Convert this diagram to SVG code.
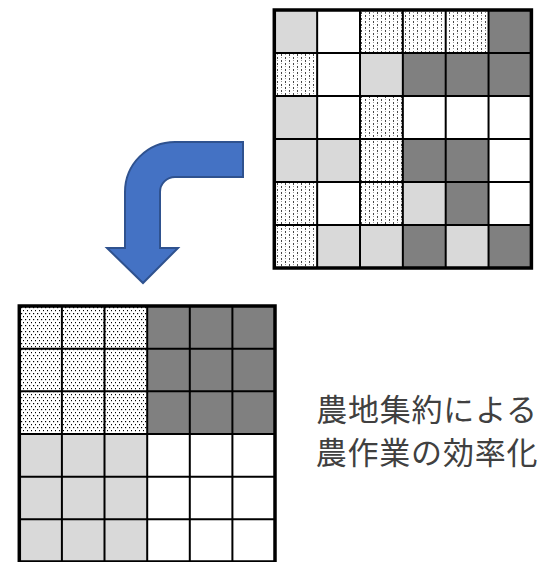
<svg xmlns="http://www.w3.org/2000/svg" width="547" height="562" viewBox="0 0 547 562">
<defs>
<pattern id="dashes" patternUnits="userSpaceOnUse" width="8" height="6">
<rect width="8" height="6" fill="#fff"/>
<rect x="1" y="0" width="1" height="2" fill="#444"/>
<rect x="1" y="3" width="1" height="1" fill="#999"/>
<rect x="5" y="3" width="1" height="2" fill="#444"/>
<rect x="5" y="0" width="1" height="1" fill="#999"/>
</pattern>
<pattern id="dots" patternUnits="userSpaceOnUse" width="4" height="6">
<rect width="4" height="6" fill="#fff"/>
<rect x="1" y="1" width="1.2" height="1.2" fill="#000"/>
<rect x="3" y="4" width="1.2" height="1.2" fill="#000"/>
</pattern>
<style>
.l{fill:#D9D9D9}.d{fill:#808080}.w{fill:#fff}.p{fill:url(#dashes)}.q{fill:url(#dots)}
.lines line{stroke:#000;stroke-width:2}
.border{fill:none;stroke:#000;stroke-width:3.5}
.txt{font-family:"Noto Sans CJK JP","Noto Sans CJK SC",sans-serif;font-size:31px;fill:#404040;letter-spacing:0.8px;text-anchor:middle}
</style>
</defs>
<g id="top-grid">
<rect class="l" x="274.3" y="10" width="42.85" height="43"/>
<rect class="w" x="317.15" y="10" width="42.85" height="43"/>
<rect class="p" x="360" y="10" width="42.85" height="43"/>
<rect class="p" x="402.85" y="10" width="42.85" height="43"/>
<rect class="p" x="445.7" y="10" width="42.85" height="43"/>
<rect class="d" x="488.55" y="10" width="42.85" height="43"/>
<rect class="p" x="274.3" y="53" width="42.85" height="43"/>
<rect class="w" x="317.15" y="53" width="42.85" height="43"/>
<rect class="l" x="360" y="53" width="42.85" height="43"/>
<rect class="d" x="402.85" y="53" width="42.85" height="43"/>
<rect class="d" x="445.7" y="53" width="42.85" height="43"/>
<rect class="d" x="488.55" y="53" width="42.85" height="43"/>
<rect class="l" x="274.3" y="96" width="42.85" height="43"/>
<rect class="w" x="317.15" y="96" width="42.85" height="43"/>
<rect class="p" x="360" y="96" width="42.85" height="43"/>
<rect class="w" x="402.85" y="96" width="42.85" height="43"/>
<rect class="w" x="445.7" y="96" width="42.85" height="43"/>
<rect class="w" x="488.55" y="96" width="42.85" height="43"/>
<rect class="l" x="274.3" y="139" width="42.85" height="43"/>
<rect class="l" x="317.15" y="139" width="42.85" height="43"/>
<rect class="p" x="360" y="139" width="42.85" height="43"/>
<rect class="d" x="402.85" y="139" width="42.85" height="43"/>
<rect class="d" x="445.7" y="139" width="42.85" height="43"/>
<rect class="w" x="488.55" y="139" width="42.85" height="43"/>
<rect class="p" x="274.3" y="182" width="42.85" height="43"/>
<rect class="w" x="317.15" y="182" width="42.85" height="43"/>
<rect class="p" x="360" y="182" width="42.85" height="43"/>
<rect class="l" x="402.85" y="182" width="42.85" height="43"/>
<rect class="d" x="445.7" y="182" width="42.85" height="43"/>
<rect class="w" x="488.55" y="182" width="42.85" height="43"/>
<rect class="p" x="274.3" y="225" width="42.85" height="43"/>
<rect class="l" x="317.15" y="225" width="42.85" height="43"/>
<rect class="l" x="360" y="225" width="42.85" height="43"/>
<rect class="d" x="402.85" y="225" width="42.85" height="43"/>
<rect class="l" x="445.7" y="225" width="42.85" height="43"/>
<rect class="d" x="488.55" y="225" width="42.85" height="43"/>
<g class="lines">
<line x1="317.15" y1="10" x2="317.15" y2="268"/>
<line x1="360" y1="10" x2="360" y2="268"/>
<line x1="402.85" y1="10" x2="402.85" y2="268"/>
<line x1="445.7" y1="10" x2="445.7" y2="268"/>
<line x1="488.55" y1="10" x2="488.55" y2="268"/>
<line x1="274.3" y1="53" x2="531.4" y2="53"/>
<line x1="274.3" y1="96" x2="531.4" y2="96"/>
<line x1="274.3" y1="139" x2="531.4" y2="139"/>
<line x1="274.3" y1="182" x2="531.4" y2="182"/>
<line x1="274.3" y1="225" x2="531.4" y2="225"/>
</g>
<rect class="border" x="274.3" y="10" width="257.1" height="258"/>
</g>
<g id="bent-arrow">
<path d="M243 142 L175 142 A50 50 0 0 0 125 192 L125 248 L107 248 L143 283 L178 248 L160 248 L160 192 A15 15 0 0 1 175 177 L243 177 Z" fill="#4472C4" stroke="#2F528F" stroke-width="2" stroke-linejoin="miter"/>
</g>
<g id="bottom-grid">
<rect class="q" x="19.3" y="306" width="127.9" height="128"/>
<rect class="d" x="147.2" y="306" width="127.8" height="128"/>
<rect class="l" x="19.3" y="434" width="127.9" height="128"/>
<rect class="w" x="147.2" y="434" width="127.8" height="128"/>
<g class="lines">
<line x1="61.9" y1="306" x2="61.9" y2="564"/>
<line x1="104.5" y1="306" x2="104.5" y2="564"/>
<line x1="147.2" y1="306" x2="147.2" y2="564"/>
<line x1="189.8" y1="306" x2="189.8" y2="564"/>
<line x1="232.4" y1="306" x2="232.4" y2="564"/>
<line x1="19.3" y1="348.7" x2="275" y2="348.7"/>
<line x1="19.3" y1="391.3" x2="275" y2="391.3"/>
<line x1="19.3" y1="434" x2="275" y2="434"/>
<line x1="19.3" y1="476.7" x2="275" y2="476.7"/>
<line x1="19.3" y1="519.3" x2="275" y2="519.3"/>
</g>
<rect class="border" x="19.3" y="306" width="255.7" height="256"/>
</g>
<g id="caption">
<text class="txt" x="427" y="421">農地集約による</text>
<text class="txt" x="427" y="464">農作業の効率化</text>
</g>
</svg>
